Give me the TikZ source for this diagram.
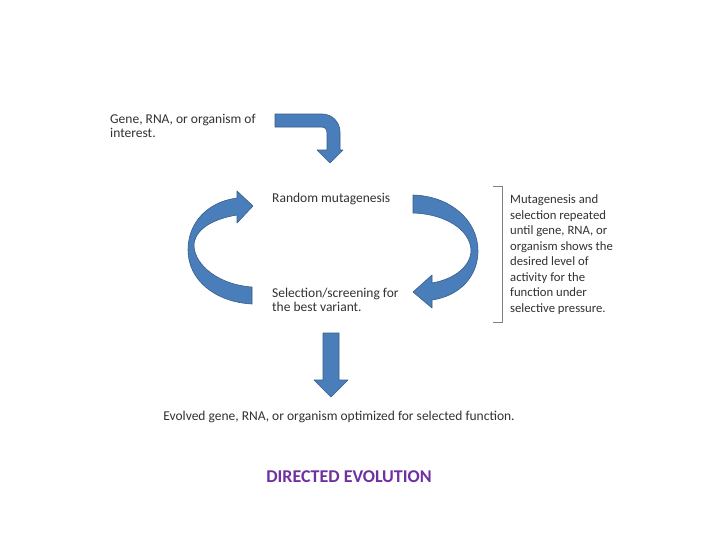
\documentclass[tikz,border=0pt]{standalone}
\usepackage{fontspec}
\setmainfont{Carlito}
\definecolor{arrowblue}{RGB}{74,126,187}
\definecolor{arrowedge}{RGB}{56,93,138}
\definecolor{txt}{RGB}{50,50,50}
\definecolor{title}{RGB}{112,48,160}
\begin{document}
\begin{tikzpicture}[x=1pt,y=-1pt,
  bigarrow/.style={fill=arrowblue,draw=arrowedge,line width=0.6pt,line join=round},
  lbl/.style={anchor=base west,inner sep=0pt,text=txt,font=\fontsize{13.5}{13.5}\selectfont,align=left}]
\useasboundingbox (0,0) rectangle (728,546);
\fill[white] (0,0) rectangle (728,546);
% text (multi-line nodes: base = last line)
\node[lbl] (src) at (110,137) {Gene, RNA, or organism of\\interest.};
\node[lbl] (mut) at (272,202) {Random mutagenesis};
\node[lbl] (sel) at (272,311) {Selection/screening for\\the best variant.};
\node[lbl,font=\fontsize{12.7}{15.5}\selectfont] (rep) at (510,312) {Mutagenesis and\\selection repeated\\until gene, RNA, or\\organism shows the\\desired level of\\activity for the\\function under\\selective pressure.};
\node[lbl,anchor=base] (out) at (339,420) {Evolved gene, RNA, or organism optimized for selected function.};
\node[anchor=base,inner sep=0pt,text=title,font=\fontsize{18}{20}\selectfont\bfseries] (ttl) at (349,482) {DIRECTED EVOLUTION};
% bent arrow
\draw[bigarrow] (275,114) -- (322,114) .. controls (332,114) and (340,122) .. (340,132) -- (340,150) -- (343,150) -- (330,163) -- (317,150) -- (327,150) -- (327,133) .. controls (327,129) and (325,127) .. (321,127) -- (275,127) -- cycle;
% left curved arrow
\draw[bigarrow] (237,198) -- (237,191) -- (253,206) -- (237,223) -- (237,215)
  .. controls (212,219) and (194,230) .. (194,246)
  .. controls (195,266) and (220,285) .. (252,287) -- (252,304)
  .. controls (215,302) and (188,280) .. (188,250)
  .. controls (188,223) and (207,202) .. (237,198) -- cycle;
% right curved arrow
\draw[bigarrow] (413,195)
  .. controls (450,196) and (478,220) .. (478,251)
  .. controls (478,276) and (460,296) .. (432,300) -- (432,308) -- (413,292) -- (432,275) -- (432,283)
  .. controls (455,279) and (471,266) .. (471,250)
  .. controls (470,230) and (446,214) .. (413,213) -- cycle;
% down arrow
\draw[bigarrow] (323,333) -- (339,333) -- (339,380) -- (348,380) -- (331,397) -- (314,380) -- (323,380) -- cycle;
% bracket
\draw[gray,line width=0.8pt] (493,186) -- (502,186) -- (502,322) -- (493,322);
\end{tikzpicture}
\end{document}
